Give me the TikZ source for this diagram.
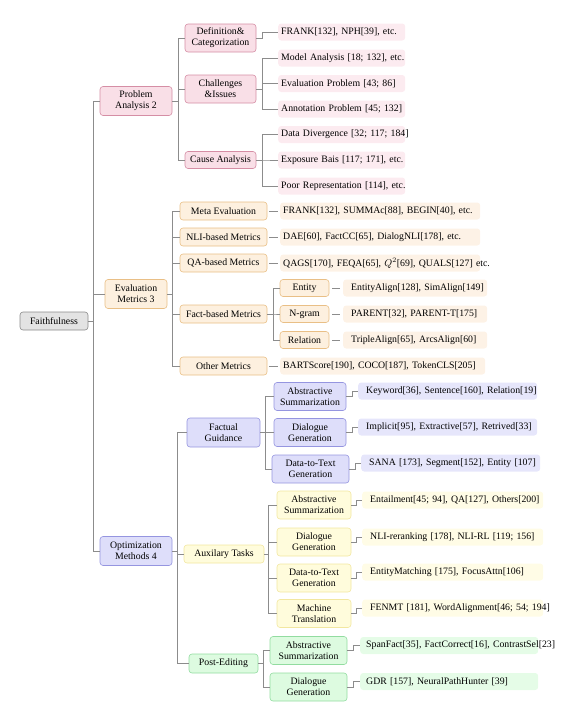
\documentclass[tikz,border=0pt]{standalone}
\usepackage{fontspec}
\setmainfont{Liberation Serif}
\usepackage{xcolor}
\usepackage{tikz}
\definecolor{connline}{HTML}{8C8C8C}
\definecolor{grfill}{HTML}{E3E3E3}
\definecolor{grdraw}{HTML}{8A8A8A}
\definecolor{pkfill}{HTML}{F9DFE7}
\definecolor{pkdraw}{HTML}{D58EA5}
\definecolor{pkleaf}{HTML}{FCEBF0}
\definecolor{orfill}{HTML}{FDF0DF}
\definecolor{ordraw}{HTML}{E9BF86}
\definecolor{orleaf}{HTML}{FDF2E6}
\definecolor{blfill}{HTML}{DEDEFA}
\definecolor{bldraw}{HTML}{9595E0}
\definecolor{blleaf}{HTML}{E6E6FB}
\definecolor{ylfill}{HTML}{FFFCDC}
\definecolor{yldraw}{HTML}{F2E7A0}
\definecolor{ylleaf}{HTML}{FFFCE6}
\definecolor{gnfill}{HTML}{DDFBE0}
\definecolor{gndraw}{HTML}{92DCA0}
\definecolor{gnleaf}{HTML}{E5FCE7}

\begin{document}
\begin{tikzpicture}[
    x=1pt, y=-1pt,
    every node/.style={font=\fontsize{9.8}{11}\selectfont},
    conn/.style={draw=connline, line width=0.6pt},
    box/.style={rounded corners=3pt, line width=0.6pt, align=center, inner sep=1pt},
    leaf/.style={rounded corners=3pt, anchor=west, minimum height=17pt,
        inner xsep=3pt, inner ysep=1pt, align=left, text width=#1,
        execute at begin node={\hbox\bgroup}, execute at end node={\egroup}},
    gy/.style={box, draw=grdraw, fill=grfill},
    pk/.style={box, draw=pkdraw, fill=pkfill},
    or/.style={box, draw=ordraw, fill=orfill},
    bl/.style={box, draw=bldraw, fill=blfill},
    yl/.style={box, draw=yldraw, fill=ylfill},
    gn/.style={box, draw=gndraw, fill=gnfill}
]
\useasboundingbox (0,0) rectangle (572,716);

% root and first level
\node[gy, minimum width=68pt, minimum height=18pt] (root) at (54,321) {Faithfulness};
\node[pk, minimum width=72pt, minimum height=29pt] (pa) at (136,101) {Problem\\Analysis 2};
\node[or, minimum width=62pt, minimum height=29pt] (em) at (136,294) {Evaluation\\Metrics 3};
\node[bl, minimum width=72pt, minimum height=29pt] (om) at (136,551) {Optimization\\Methods 4};

% problem analysis
\node[pk, minimum width=71pt, minimum height=28pt] (dc) at (220.5,38) {Definition\&\\Categorization};
\node[pk, minimum width=71pt, minimum height=28pt] (ci) at (220.5,89) {Challenges\\\&Issues};
\node[pk, minimum width=71pt, minimum height=17pt] (ca) at (220.5,160) {Cause Analysis};

\node[leaf=121pt, fill=pkleaf] (l-frank) at (278,32) {FRANK[132], NPH[39], etc.};
\node[leaf=121pt, fill=pkleaf] (l-model) at (278,58) {Model Analysis [18; 132], etc.};
\node[leaf=121pt, fill=pkleaf] (l-evalp) at (278,83.5) {Evaluation Problem [43; 86]};
\node[leaf=121pt, fill=pkleaf] (l-annot) at (278,109) {Annotation Problem [45; 132]};
\node[leaf=121pt, fill=pkleaf] (l-datad) at (278,134.5) {Data Divergence [32; 117; 184]};
\node[leaf=121pt, fill=pkleaf] (l-expo) at (278,160) {Exposure Bais [117; 171], etc.};
\node[leaf=121pt, fill=pkleaf] (l-poor) at (278,186) {Poor Representation [114], etc.};

% evaluation metrics
\node[or, minimum width=87pt, minimum height=18pt] (me) at (223.5,211) {Meta Evaluation};
\node[or, minimum width=87pt, minimum height=18pt] (nli) at (223.5,237) {NLI-based Metrics};
\node[or, minimum width=87pt, minimum height=18pt] (qa) at (223.5,263) {QA-based Metrics};
\node[or, minimum width=87pt, minimum height=18pt] (fb) at (223.5,314) {Fact-based Metrics};
\node[or, minimum width=87pt, minimum height=18pt] (oth) at (223.5,366) {Other Metrics};

\node[leaf=194pt, fill=orleaf] (l-meta) at (280,211) {FRANK[132], SUMMAc[88], BEGIN[40], etc.};
\node[leaf=194pt, fill=orleaf] (l-nli) at (280,237) {DAE[60], FactCC[65], DialogNLI[178], etc.};
\node[leaf=194pt, fill=orleaf] (l-qa) at (280,263) {QAGS[170], FEQA[65], $Q^2$[69], QUALS[127] etc.};
\node[leaf=199pt, fill=orleaf] (l-oth) at (280,366) {BARTScore[190], COCO[187], TokenCLS[205]};

\node[or, minimum width=49pt, minimum height=17pt] (ent) at (304.5,288) {Entity};
\node[or, minimum width=49pt, minimum height=17pt] (ngr) at (304.5,314) {N-gram};
\node[or, minimum width=49pt, minimum height=17pt] (rel) at (304.5,340) {Relation};

\node[leaf=128pt, fill=orleaf, inner xsep=8pt] (l-ent) at (343,288) {EntityAlign[128], SimAlign[149]};
\node[leaf=128pt, fill=orleaf, inner xsep=8pt] (l-ngr) at (343,314) {PARENT[32], PARENT-T[175]};
\node[leaf=128pt, fill=orleaf, inner xsep=8pt] (l-rel) at (343,340) {TripleAlign[65], ArcsAlign[60]};

% optimization methods
\node[bl, minimum width=73pt, minimum height=29pt] (fg) at (223.5,432.5) {Factual\\Guidance};
\node[yl, minimum width=80pt, minimum height=18pt] (at) at (224,554) {Auxilary Tasks};
\node[gn, minimum width=69pt, minimum height=19pt] (pe) at (223.5,663.5) {Post-Editing};

\node[bl, minimum width=72pt, minimum height=28pt] (fg-as) at (310,396.5) {Abstractive\\Summarization};
\node[bl, minimum width=72pt, minimum height=28pt] (fg-dg) at (310,432.5) {Dialogue\\Generation};
\node[bl, minimum width=77pt, minimum height=28pt] (fg-dt) at (310.5,469) {Data-to-Text\\Generation};

\node[leaf=163pt, fill=blleaf, inner xsep=8pt] (l-kw) at (358,391) {Keyword[36], Sentence[160], Relation[19]};
\node[leaf=163pt, fill=blleaf, inner xsep=8pt] (l-imp) at (358,427) {Implicit[95], Extractive[57], Retrived[33]};
\node[leaf=163pt, fill=blleaf, inner xsep=8pt] (l-sana) at (361,463) {SANA [173], Segment[152], Entity [107]};

\node[yl, minimum width=74pt, minimum height=28pt] (at-as) at (314,505) {Abstractive\\Summarization};
\node[yl, minimum width=74pt, minimum height=28pt] (at-dg) at (314,542) {Dialogue\\Generation};
\node[yl, minimum width=74pt, minimum height=28pt] (at-dt) at (314,578) {Data-to-Text\\Generation};
\node[yl, minimum width=74pt, minimum height=28pt] (at-mt) at (314,613.5) {Machine\\Translation};

\node[leaf=165pt, fill=ylleaf, inner xsep=8pt] (l-ent2) at (362,500) {Entailment[45; 94], QA[127], Others[200]};
\node[leaf=165pt, fill=ylleaf, inner xsep=8pt] (l-nlir) at (362,537) {NLI-reranking [178], NLI-RL [119; 156]};
\node[leaf=165pt, fill=ylleaf, inner xsep=8pt] (l-em) at (362,572) {EntityMatching [175], FocusAttn[106]};
\node[leaf=165pt, fill=ylleaf, inner xsep=8pt] (l-fen) at (362,608) {FENMT [181], WordAlignment[46; 54; 194]};

\node[gn, minimum width=77pt, minimum height=28pt] (pe-as) at (308.5,650.5) {Abstractive\\Summarization};
\node[gn, minimum width=77pt, minimum height=28pt] (pe-dg) at (308.5,687) {Dialogue\\Generation};

\node[leaf=166pt, fill=gnleaf, inner xsep=6pt] (l-span) at (360,645.5) {SpanFact[35], FactCorrect[16], ContrastSel[23]};
\node[leaf=166pt, fill=gnleaf, inner xsep=6pt] (l-gdr) at (360,681.5) {GDR [157], NeuralPathHunter [39]};

% connectors
\draw[conn] (root.east) -- ++(5,0) |- (pa.west)
            (root.east) -- ++(5,0) |- (em.west)
            (root.east) -- ++(5,0) |- (om.west);
\draw[conn] (pa.east) -- ++(6,0) |- (dc.west)
            (pa.east) -- ++(6,0) |- (ci.west)
            (pa.east) -- ++(6,0) |- (ca.west);
\draw[conn] (dc.east) -- ++(6,0) |- (l-frank.west);
\draw[conn] (ci.east) -- ++(6,0) |- (l-model.west)
            (ci.east) -- ++(6,0) |- (l-evalp.west)
            (ci.east) -- ++(6,0) |- (l-annot.west);
\draw[conn] (ca.east) -- ++(6,0) |- (l-datad.west)
            (ca.east) -- ++(6,0) |- (l-expo.west)
            (ca.east) -- ++(6,0) |- (l-poor.west);

\draw[conn] (em.east) -- ++(5,0) |- (me.west)
            (em.east) -- ++(5,0) |- (nli.west)
            (em.east) -- ++(5,0) |- (qa.west)
            (em.east) -- ++(5,0) |- (fb.west)
            (em.east) -- ++(5,0) |- (oth.west);
\draw[conn, shorten <=2pt, shorten >=2pt] (me) -- (l-meta);
\draw[conn, shorten <=2pt, shorten >=2pt] (nli) -- (l-nli);
\draw[conn, shorten <=2pt, shorten >=2pt] (qa) -- (l-qa);
\draw[conn, shorten <=2pt, shorten >=2pt] (oth) -- (l-oth);
\draw[conn] (fb.east) -- ++(6,0) |- (ent.west)
            (fb.east) -- ++(6,0) |- (ngr.west)
            (fb.east) -- ++(6,0) |- (rel.west);
\draw[conn, shorten <=3pt, shorten >=3pt] (ent) -- (l-ent);
\draw[conn, shorten <=3pt, shorten >=3pt] (ngr) -- (l-ngr);
\draw[conn, shorten <=3pt, shorten >=3pt] (rel) -- (l-rel);

\draw[conn] (om.east) -- ++(5,0) |- (fg.west)
            (om.east) -- ++(5,0) |- (at.west)
            (om.east) -- ++(5,0) |- (pe.west);
\draw[conn] (fg.east) -- ++(5,0) |- (fg-as.west)
            (fg.east) -- ++(5,0) |- (fg-dg.west)
            (fg.east) -- ++(5,0) |- (fg-dt.west);
\draw[conn] (fg-as.east) -- ++(6,0) |- (l-kw.west);
\draw[conn] (fg-dg.east) -- ++(6,0) |- (l-imp.west);
\draw[conn] (fg-dt.east) -- ++(6,0) |- (l-sana.west);
\draw[conn] (at.east) -- ++(4,0) |- (at-as.west)
            (at.east) -- ++(4,0) |- (at-dg.west)
            (at.east) -- ++(4,0) |- (at-dt.west)
            (at.east) -- ++(4,0) |- (at-mt.west);
\draw[conn] (at-as.east) -- ++(5,0) |- (l-ent2.west);
\draw[conn] (at-dg.east) -- ++(5,0) |- (l-nlir.west);
\draw[conn] (at-dt.east) -- ++(5,0) |- (l-em.west);
\draw[conn] (at-mt.east) -- ++(5,0) |- (l-fen.west);
\draw[conn] (pe.east) -- ++(5,0) |- (pe-as.west)
            (pe.east) -- ++(5,0) |- (pe-dg.west);
\draw[conn] (pe-as.east) -- ++(6,0) |- (l-span.west);
\draw[conn] (pe-dg.east) -- ++(6,0) |- (l-gdr.west);
\end{tikzpicture}
\end{document}
